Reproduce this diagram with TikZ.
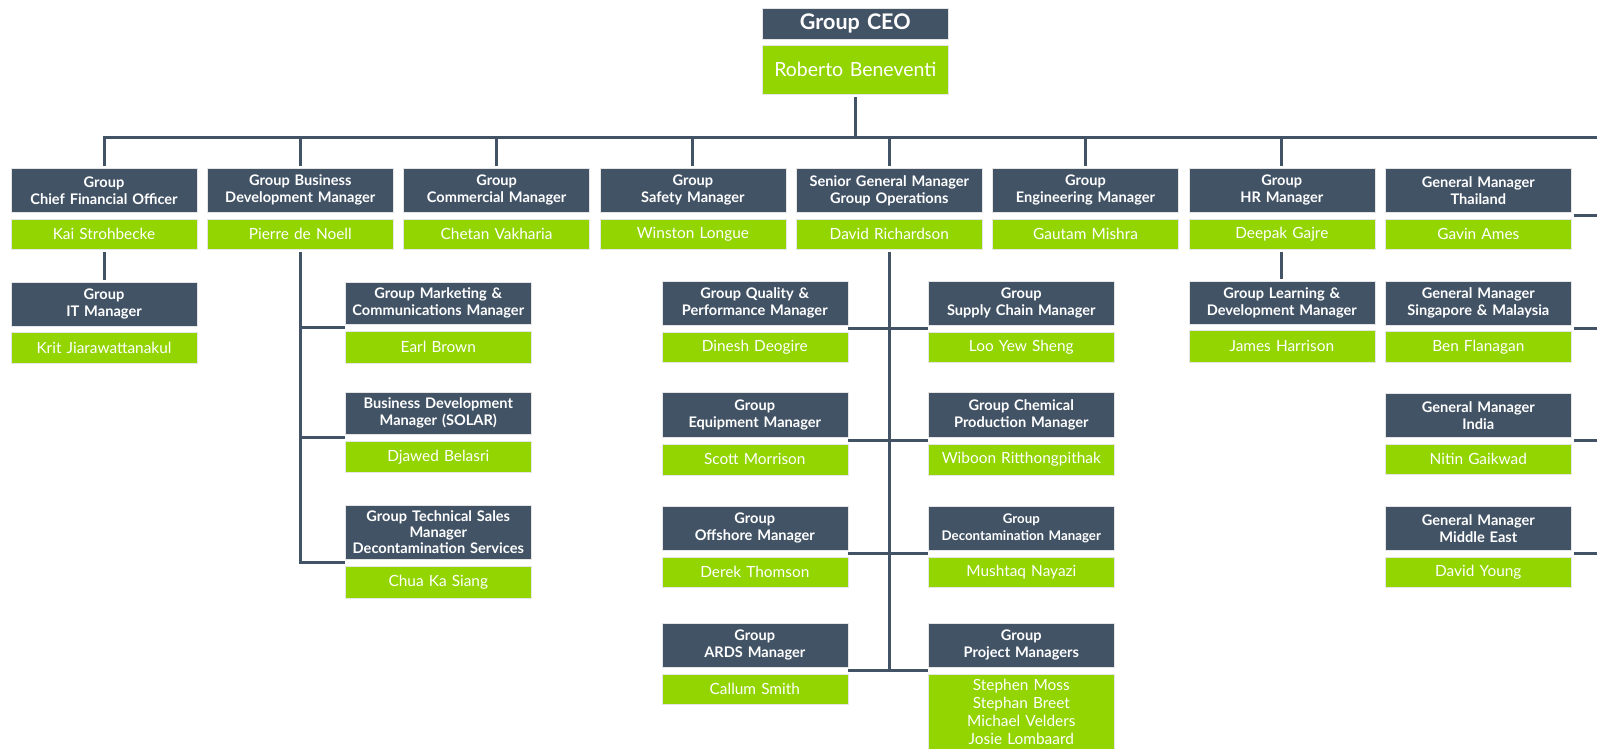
\documentclass[tikz,border=0pt]{standalone}
\usepackage{fontspec}
\setmainfont{Lato}
\usetikzlibrary{calc}
\definecolor{navy}{HTML}{425366}
\definecolor{lime}{HTML}{93D500}
\tikzset{
 box/.style={anchor=north west, inner sep=0pt, minimum width=186pt, text width=186pt, align=center, text=white, draw=black!10, line width=0.6pt},
 ttl/.style={box, fill=navy, font=\bfseries\fontsize{14.6}{17}\selectfont},
 nm/.style={box, fill=lime, font=\fontsize{15.4}{18}\selectfont},
 conn/.style={draw=navy, line width=3pt, line join=miter},
}
\begin{document}
\begin{tikzpicture}[x=1pt,y=-1pt]
\clip (0,0) rectangle (1597,749);
\fill[white] (0,0) rectangle (1597,749);
% CEO
\node[ttl, minimum height=31pt, font=\bfseries\fontsize{21.5}{24}\selectfont] (ceo) at (762,8) {Group CEO};
\node[nm, minimum height=49pt, font=\fontsize{19.5}{23}\selectfont] (ceon) at (762,45) {Roberto Beneventi};
% level 1
\node[ttl, minimum height=44pt] (c1t) at (10.7,168) {Group\\Chief Financial Officer};
\node[nm, minimum height=30pt] (c1n) at (10.7,219) {Kai Strohbecke};
\node[ttl, minimum height=44pt] (c2t) at (207,168) {Group Business\\Development Manager};
\node[nm, minimum height=30pt] (c2n) at (207,219) {Pierre de Noell};
\node[ttl, minimum height=44pt] (c3t) at (403.3,168) {Group\\Commercial Manager};
\node[nm, minimum height=30pt] (c3n) at (403.3,219) {Chetan Vakharia};
\node[ttl, minimum height=44pt] (c4t) at (599.6,168) {Group\\Safety Manager};
\node[nm, minimum height=30pt] (c4n) at (599.6,219) {Winston Longue};
\node[ttl, minimum height=44pt] (c5t) at (796,168) {Senior General Manager\\Group Operations};
\node[nm, minimum height=30pt] (c5n) at (796,219) {David Richardson};
\node[ttl, minimum height=44pt] (c6t) at (992.2,168) {Group\\Engineering Manager};
\node[nm, minimum height=30pt] (c6n) at (992.2,219) {Gautam Mishra};
\node[ttl, minimum height=44pt] (c7t) at (1188.5,168) {Group\\HR Manager};
\node[nm, minimum height=30pt] (c7n) at (1188.5,219) {Deepak Gajre};
\node[ttl, minimum height=44pt] (c8t) at (1385,168) {General Manager\\Thailand};
\node[nm, minimum height=30pt] (c8n) at (1385,219) {Gavin Ames};
% under CFO and HR
\node[ttl, minimum height=44pt] (it) at (10.7,282) {Group\\IT Manager};
\node[nm, minimum height=31pt] (itn) at (10.7,332) {Krit Jiarawattanakul};
\node[ttl, minimum height=43pt] (ld) at (1188.5,281) {Group Learning \&\\Development Manager};
\node[nm, minimum height=32pt] (ldn) at (1188.5,330) {James Harrison};
% under BD
\node[ttl, minimum height=42pt] (mk) at (345,282) {Group Marketing \&\\Communications Manager};
\node[nm, minimum height=32pt] (mkn) at (345,331) {Earl Brown};
\node[ttl, minimum height=42pt] (so) at (345,392) {Business Development\\Manager (SOLAR)};
\node[nm, minimum height=31pt] (son) at (345,441) {Djawed Belasri};
\node[ttl, minimum height=54pt, font=\bfseries\fontsize{14.6}{16}\selectfont] (ts) at (345,505) {Group Technical Sales\\Manager\\Decontamination Services};
\node[nm, minimum height=32pt] (tsn) at (345,566) {Chua Ka Siang};
% under SGM, left
\node[ttl, minimum height=44pt] (qa) at (661.5,281) {Group Quality \&\\Performance Manager};
\node[nm, minimum height=30pt] (qan) at (661.5,332) {Dinesh Deogire};
\node[ttl, minimum height=45pt] (eq) at (661.5,392) {Group\\Equipment Manager};
\node[nm, minimum height=31pt] (eqn) at (661.5,443.5) {Scott Morrison};
\node[ttl, minimum height=44pt] (of) at (661.5,506) {Group\\Offshore Manager};
\node[nm, minimum height=30pt] (ofn) at (661.5,557) {Derek Thomson};
\node[ttl, minimum height=44pt] (ar) at (661.5,623) {Group\\ARDS Manager};
\node[nm, minimum height=30pt] (arn) at (661.5,674) {Callum Smith};
% under SGM, right
\node[ttl, minimum height=44pt] (sc) at (928,281) {Group\\Supply Chain Manager};
\node[nm, minimum height=30pt] (scn) at (928,332) {Loo Yew Sheng};
\node[ttl, minimum height=45pt] (ch) at (928,392) {Group Chemical\\Production Manager};
\node[nm, minimum height=31pt] (chn) at (928,443.5) {Wiboon Ritthongpithak};
\node[ttl, minimum height=44pt, font=\bfseries\fontsize{13.3}{17}\selectfont] (dc) at (928,506) {Group\\Decontamination Manager};
\node[nm, minimum height=30pt] (dcn) at (928,557) {Mushtaq Nayazi};
\node[ttl, minimum height=44pt] (pm) at (928,623) {Group\\Project Managers};
\node[nm, minimum height=76pt] (pmn) at (928,674) {Stephen Moss\\Stephan Breet\\Michael Velders\\Josie Lombaard};
% GMs
\node[ttl, minimum height=44pt] (sg) at (1385,281) {General Manager\\Singapore \& Malaysia};
\node[nm, minimum height=31pt] (sgn) at (1385,331) {Ben Flanagan};
\node[ttl, minimum height=44pt] (in) at (1385,393) {General Manager\\India};
\node[nm, minimum height=30pt] (inn) at (1385,444) {Nitin Gaikwad};
\node[ttl, minimum height=44pt] (me) at (1385,506) {General Manager\\Middle East};
\node[nm, minimum height=30pt] (men) at (1385,557) {David Young};
% connectors
\coordinate (busR) at (1600,137);
\coordinate (rightedge) at (1600,0);
\draw[conn, shorten <=2pt] (ceon.south) -- (ceon.south |- busR);
\draw[conn, shorten <=2pt] (c1t.north) |- (busR);
\foreach \n in {c2t,c3t,c4t,c5t,c6t,c7t}{
  \draw[conn, shorten <=2pt] (\n.north) -- (\n.north |- busR);
}
\draw[conn, shorten <=2pt, shorten >=2pt] (c1n.south) -- (it.north);
\draw[conn, shorten <=2pt, shorten >=2pt] (c7n.south) -- (ld.north);
% BD branch
\coordinate (j1) at ($(mk.south west)!0.5!(mkn.north west)$);
\coordinate (j2) at ($(so.south west)!0.5!(son.north west)$);
\coordinate (j3) at ($(ts.south west)!0.5!(tsn.north west)$);
\draw[conn, shorten <=2pt] (c2n.south) -- (c2n.south |- j3) -- (j3);
\draw[conn] (c2n.south |- j1) -- (j1);
\draw[conn] (c2n.south |- j2) -- (j2);
% SGM branch
\coordinate (k1) at ($(qa.south east)!0.5!(qan.north east)$);
\coordinate (k2) at ($(eq.south east)!0.5!(eqn.north east)$);
\coordinate (k3) at ($(of.south east)!0.5!(ofn.north east)$);
\coordinate (k4) at ($(ar.south east)!0.5!(arn.north east)$);
\coordinate (m1) at ($(sc.south west)!0.5!(scn.north west)$);
\coordinate (m2) at ($(ch.south west)!0.5!(chn.north west)$);
\coordinate (m3) at ($(dc.south west)!0.5!(dcn.north west)$);
\coordinate (m4) at ($(pm.south west)!0.5!(pmn.north west)$);
\draw[conn, shorten <=2pt] (c5n.south) -- (c5n.south |- k4);
\draw[conn] (k1) -- (m1 |- k1);
\draw[conn] (k2) -- (m2 |- k2);
\draw[conn] (k3) -- (m3 |- k3);
\draw[conn] (k4) -- (m4 |- k4);
% GM stubs to the right
\foreach \a/\b/\g in {c8t/c8n/g1, sg/sgn/g2, in/inn/g3, me/men/g4}{
  \coordinate (\g) at ($(\a.south east)!0.5!(\b.north east)$);
  \draw[conn, shorten <=-0.5pt] (\g) ++(2.5,0) -- (\g -| rightedge);
}
\end{tikzpicture}
\end{document}
